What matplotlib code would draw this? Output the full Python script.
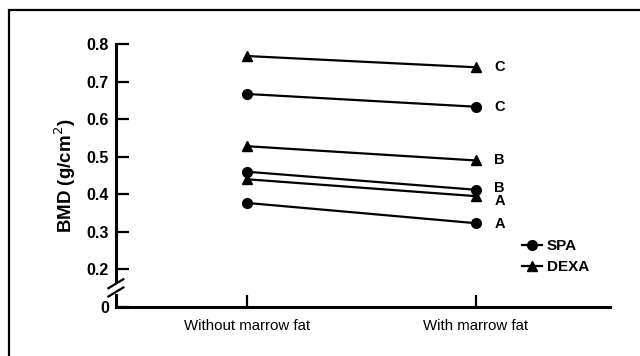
import numpy as np
import matplotlib.pyplot as plt
from matplotlib.patches import Rectangle
from matplotlib.lines import Line2D

plt.rcParams['font.family'] = ['Liberation Sans', 'DejaVu Sans']

# Condiciones en el eje x
conditions = ["Without marrow fat", "With marrow fat"]
sites = ["A", "B", "C"]

# BMD por sitio (A, B, C): sin grasa medular / con grasa medular
spa_without = [0.377, 0.460, 0.667]
spa_with = [0.323, 0.412, 0.633]
dexa_without = [0.440, 0.528, 0.768]
dexa_with = [0.395, 0.490, 0.738]

yticks = [0.1, 0.2, 0.3, 0.4, 0.5, 0.6, 0.7, 0.8]
ytick_labels = ["0", "0.2", "0.3", "0.4", "0.5", "0.6", "0.7", "0.8"]

fig = plt.figure(figsize=(6.4, 3.56), dpi=100)
ax = fig.add_axes([116/640, 1 - 307/356, (610 - 116)/640, (307 - 44)/356])

# Marco alrededor de la figura
fig.patches.append(Rectangle((9/640, -0.05), 1.0, 0.972 + 0.05, transform=fig.transFigure,
                             fill=False, edgecolor='black', linewidth=1.6))

x = np.arange(len(conditions))
for lo, hi in zip(spa_without, spa_with):
    ax.plot(x, [lo, hi], color='black', linewidth=1.6, marker='o', markersize=7, zorder=3)
for lo, hi in zip(dexa_without, dexa_with):
    ax.plot(x, [lo, hi], color='black', linewidth=1.6, marker='^', markersize=7.5, zorder=3)

# Etiquetas de sitio a la derecha
label_pos = {"SPA": [0.322, 0.418, 0.633], "DEXA": [0.383, 0.490, 0.738]}
for i, s in enumerate(sites):
    ax.text(1.08, label_pos["SPA"][i], s, fontsize=10.5, fontweight='bold', va='center', ha='left')
    ax.text(1.08, label_pos["DEXA"][i], s, fontsize=10.5, fontweight='bold', va='center', ha='left')

ax.set_xlim(-0.572, 1.585)
ax.set_ylim(0.1, 0.8)
ax.set_xticks(x)
ax.set_xticklabels(conditions, fontsize=10.8)
ax.set_yticks(yticks)
ax.set_yticklabels(ytick_labels, fontsize=11.5, fontweight='bold')
ax.tick_params(axis='y', direction='in', length=9, width=1.6, pad=5)
ax.tick_params(axis='x', direction='in', length=9, width=1.6, pad=9)
ax.set_ylabel("BMD (g/cm$^2$)", fontsize=13.5, fontweight='bold', labelpad=6)

for side in ['top', 'right']:
    ax.spines[side].set_visible(False)
for side in ['left', 'bottom']:
    ax.spines[side].set_linewidth(2.2)
ax.spines['left'].set_bounds(0.1, 0.8)

# Corte del eje y
ax.add_patch(Rectangle((-0.62, 0.135), 0.1, 0.025, facecolor='white', edgecolor='none',
                       zorder=4, clip_on=False))
for dy in (0.0, 0.022):
    ax.add_line(Line2D([-0.605, -0.54], [0.128 + dy, 0.152 + dy], color='black',
                       linewidth=1.6, clip_on=False, zorder=5))

# Leyenda
handles = [Line2D([], [], color='black', linewidth=1.6, marker='o', markersize=7),
           Line2D([], [], color='black', linewidth=1.6, marker='^', markersize=7.5)]
leg = ax.legend(handles, ["SPA", "DEXA"], loc='upper left', bbox_to_anchor=(0.795, 0.31),
                frameon=False, handlelength=1.3, handletextpad=0.3, labelspacing=0.45,
                prop={'size': 11, 'weight': 'bold'})

plt.savefig("out.png", dpi=100)
